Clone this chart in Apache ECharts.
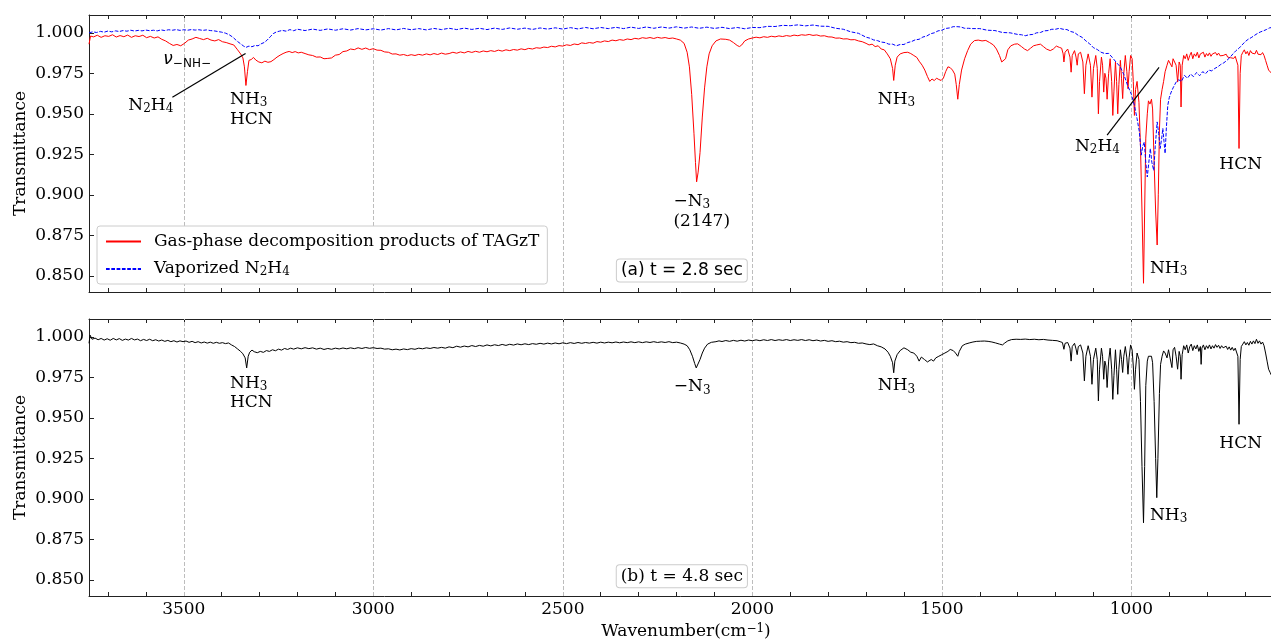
<!DOCTYPE html>
<html><head><meta charset="utf-8">
<script src="https://cdn.jsdelivr.net/npm/echarts@6/dist/echarts.min.js"></script>
<style>html,body{margin:0;padding:0;background:#fff}#c{width:1271px;height:642px}</style>
</head><body><div id="c"></div>
<script>
// ---------- DATA ----------
const xMajorTicks = [3500, 3000, 2500, 2000, 1500, 1000];
const xMinorTicks = [3700,3600,3500,3400,3300,3200,3100,3000,2900,2800,2700,2600,2500,2400,2300,2200,2100,2000,1900,1800,1700,1600,1500,1400,1300,1200,1100,1000,900,800,700];
const yTicks = [0.85, 0.875, 0.9, 0.925, 0.95, 0.975, 1.0];

const nameGas = 'Gas-phase decomposition products of TAGzT';
const nameVap = 'Vaporized N2H4';

// (a) t = 2.8 s, gas-phase decomposition products [wavenumber, transmittance]
const gasPhaseA = [
[3750,0.993],[3746,0.998],[3738,0.9975],[3728,0.9985],[3718,0.9972],[3708,0.9982],[3698,0.9978],[3688,0.9988],[3678,0.9974],[3668,0.9983],
[3658,0.9976],[3648,0.9986],[3638,0.9972],[3628,0.9982],[3618,0.9977],[3608,0.9985],[3598,0.9970],[3588,0.9978],[3578,0.9968],[3568,0.9975],
[3558,0.9960],[3548,0.9950],[3538,0.9935],[3528,0.9922],[3518,0.9928],[3508,0.9920],[3498,0.9935],[3488,0.9955],[3478,0.9962],[3468,0.9972],
[3458,0.9965],[3448,0.9958],[3438,0.9966],[3428,0.9955],[3418,0.9950],[3408,0.9958],[3398,0.9945],[3388,0.9940],[3378,0.9932],[3368,0.9925],
[3358,0.9895],[3350,0.9870],[3344,0.9845],[3340,0.9790],[3336,0.9675],[3332,0.9760],[3328,0.9830],[3322,0.9835],[3316,0.9848],[3310,0.9832],
[3302,0.9820],[3294,0.9815],[3286,0.9825],[3278,0.9818],[3270,0.9822],[3262,0.9835],[3254,0.9850],[3246,0.9862],[3238,0.9872],[3230,0.9880],
[3222,0.9885],[3214,0.9878],[3206,0.9884],[3198,0.9876],[3190,0.9880],[3180,0.9872],[3170,0.9864],[3160,0.9860],[3150,0.9850],[3140,0.9851],
[3130,0.9840],[3120,0.9842],[3110,0.9845],[3100,0.9862],[3090,0.9866],[3080,0.9884],[3070,0.9888],[3060,0.9900],[3050,0.9896],[3040,0.9907],
[3030,0.9898],[3020,0.9906],[3010,0.9896],[3000,0.9902],[2990,0.9893],[2980,0.9892],[2970,0.9882],[2960,0.9880],[2950,0.9869],[2940,0.9870],
[2930,0.9862],[2920,0.9866],[2910,0.9859],[2900,0.9865],[2890,0.9860],[2880,0.9867],[2870,0.9862],[2860,0.9870],[2850,0.9864],[2840,0.9872],
[2830,0.9866],[2820,0.9875],[2810,0.9868],[2800,0.9872],[2790,0.9880],[2780,0.9874],[2770,0.9882],[2760,0.9876],[2750,0.9885],[2740,0.9879],
[2730,0.9886],[2720,0.9880],[2710,0.9888],[2700,0.9883],[2690,0.9890],[2680,0.9885],[2670,0.9893],[2660,0.9887],[2650,0.9895],[2640,0.9890],
[2630,0.9897],[2620,0.9893],[2610,0.9901],[2600,0.9896],[2590,0.9904],[2580,0.9900],[2570,0.9908],[2560,0.9905],[2550,0.9912],[2540,0.9909],
[2530,0.9917],[2520,0.9913],[2510,0.9921],[2500,0.9918],[2490,0.9926],[2480,0.9922],[2470,0.9931],[2460,0.9927],[2450,0.9938],[2440,0.9934],
[2430,0.9940],[2420,0.9936],[2410,0.9946],[2400,0.9942],[2390,0.9950],[2380,0.9946],[2370,0.9955],[2360,0.9951],[2350,0.9958],[2340,0.9954],
[2330,0.9962],[2320,0.9958],[2310,0.9966],[2300,0.9962],[2290,0.9970],[2280,0.9966],[2270,0.9971],[2260,0.9965],[2250,0.9972],[2240,0.9967],
[2230,0.9971],[2220,0.9965],[2210,0.9968],[2200,0.9962],[2190,0.9955],[2180,0.9935],[2172,0.9880],[2166,0.9790],[2160,0.9620],[2154,0.9380],
[2150,0.9200],[2147,0.9080],[2143,0.9140],[2138,0.9260],[2132,0.9480],[2126,0.9660],[2120,0.9790],[2114,0.9870],[2106,0.9920],[2096,0.9950],
[2084,0.9962],[2070,0.9960],[2060,0.9955],[2050,0.9940],[2040,0.9922],[2034,0.9915],[2028,0.9925],[2020,0.9950],[2010,0.9962],[2000,0.9968],
[1990,0.9973],[1980,0.9969],[1970,0.9976],[1960,0.9972],[1950,0.9979],[1940,0.9975],[1930,0.9981],[1920,0.9977],[1910,0.9983],[1900,0.9979],
[1890,0.9986],[1880,0.9982],[1870,0.9988],[1860,0.9985],[1850,0.9990],[1840,0.9984],[1830,0.9987],[1820,0.9980],[1810,0.9982],[1800,0.9975],
[1790,0.9974],[1780,0.9967],[1770,0.9968],[1760,0.9962],[1750,0.9963],[1740,0.9957],[1730,0.9958],[1720,0.9950],[1710,0.9945],[1700,0.9935],
[1692,0.9925],[1684,0.9930],[1676,0.9915],[1668,0.9920],[1660,0.9900],[1652,0.9895],[1644,0.9870],[1636,0.9840],[1630,0.9780],[1627,0.9706],
[1623,0.9800],[1618,0.9850],[1610,0.9870],[1600,0.9878],[1590,0.9880],[1582,0.9872],[1574,0.9860],[1566,0.9848],[1560,0.9825],[1552,0.9800],
[1545,0.9770],[1538,0.9730],[1532,0.9700],[1526,0.9715],[1520,0.9705],[1514,0.9720],[1508,0.9712],[1502,0.9706],[1496,0.9720],[1490,0.9760],
[1484,0.9790],[1478,0.9785],[1472,0.9770],[1466,0.9745],[1462,0.9680],[1458,0.9590],[1454,0.9680],[1448,0.9770],[1440,0.9840],[1432,0.9890],
[1424,0.9930],[1414,0.9952],[1404,0.9955],[1394,0.9950],[1384,0.9953],[1374,0.9940],[1364,0.9925],[1356,0.9900],[1348,0.9860],[1342,0.9820],
[1337,0.9810],[1332,0.9840],[1326,0.9895],[1318,0.9920],[1308,0.9930],[1300,0.9932],[1290,0.9915],[1282,0.9900],[1274,0.9890],[1266,0.9905],
[1258,0.9920],[1250,0.9925],[1240,0.9930],[1232,0.9915],[1224,0.9900],[1214,0.9890],[1206,0.9900],[1198,0.9918],[1190,0.9910],[1184,0.9905],
[1180,0.9870],[1178,0.9820],[1175,0.9880],[1168,0.9900],[1162,0.9850],[1159,0.9757],[1156,0.9860],[1150,0.9890],[1146,0.9850],[1143,0.9800],
[1140,0.9870],[1134,0.9880],[1128,0.9820],[1124,0.9624],[1120,0.9800],[1114,0.9870],[1108,0.9800],[1104,0.9603],[1100,0.9780],[1094,0.9860],
[1090,0.9780],[1087,0.9500],[1084,0.9700],[1079,0.9850],[1076,0.9800],[1073,0.9634],[1070,0.9750],[1067,0.9720],[1064,0.9590],[1060,0.9750],
[1056,0.9840],[1052,0.9700],[1049,0.9490],[1046,0.9640],[1042,0.9820],[1039,0.9700],[1036,0.9500],[1033,0.9680],[1029,0.9830],[1026,0.9720],
[1023,0.9594],[1020,0.9750],[1016,0.9860],[1012,0.9760],[1009,0.9655],[1006,0.9760],[1002,0.9860],[998,0.9840],[995,0.9700],[992,0.9490],
[989,0.9650],[985,0.9700],[980,0.9570],[976,0.9300],[972,0.8900],[968,0.8454],[965,0.8900],[962,0.9350],[958,0.9500],[955,0.9580],
[951,0.9560],[947,0.9590],[944,0.9530],[940,0.9200],[936,0.8900],[932,0.8690],[929,0.9000],[926,0.9400],[923,0.9590],[919,0.9650],
[915,0.9700],[911,0.9760],[906,0.9800],[902,0.9830],[897,0.9840],[893,0.9790],[890,0.9840],[886,0.9850],[882,0.9800],[878,0.9696],
[874,0.9820],[871,0.9800],[869,0.9542],[866,0.9800],[862,0.9860],[858,0.9840],[854,0.9870],[850,0.9830],[846,0.9860],[842,0.9880],
[838,0.9840],[834,0.9870],[830,0.9855],[826,0.9880],[822,0.9845],[818,0.9870],[814,0.9860],[810,0.9880],[806,0.9850],[802,0.9872],
[798,0.9858],[794,0.9876],[790,0.9855],[786,0.9870],[782,0.9860],[778,0.9878],[774,0.9862],[770,0.9875],[766,0.9858],[762,0.9870],
[758,0.9860],[754,0.9855],[750,0.9868],[746,0.9850],[742,0.9862],[738,0.9846],[734,0.9858],[730,0.9842],[726,0.9855],[722,0.9848],
[719,0.9800],[716,0.9286],[713,0.9750],[710,0.9860],[706,0.9880],[702,0.9895],[698,0.9870],[694,0.9885],[690,0.9860],[686,0.9890],
[682,0.9875],[678,0.9885],[674,0.9870],[670,0.9892],[666,0.9868],[662,0.9880],[658,0.9865],[654,0.9878],[650,0.9860],[646,0.9830],
[642,0.9800],[638,0.9770],[634,0.9760],[630,0.9750],[626,0.9780]
];

// (a) vaporized N2H4 reference spectrum
const vaporN2H4 = [
[3750,1.0000],[3740,1.0006],[3730,1.0002],[3720,1.0009],[3710,1.0004],[3700,1.0011],[3690,1.0006],[3680,1.0012],[3670,1.0008],[3660,1.0014],
[3650,1.0010],[3640,1.0016],[3630,1.0011],[3620,1.0015],[3610,1.0012],[3600,1.0017],[3590,1.0013],[3580,1.0016],[3570,1.0012],[3560,1.0018],
[3550,1.0014],[3540,1.0019],[3530,1.0016],[3520,1.0020],[3510,1.0015],[3500,1.0019],[3490,1.0016],[3480,1.0020],[3470,1.0017],[3460,1.0019],
[3450,1.0015],[3440,1.0018],[3430,1.0014],[3420,1.0012],[3410,1.0008],[3400,1.0004],[3390,0.9998],[3380,0.9988],[3370,0.9972],[3360,0.9950],
[3350,0.9932],[3342,0.9918],[3336,0.9910],[3328,0.9918],[3320,0.9914],[3312,0.9922],[3304,0.9920],[3296,0.9932],[3288,0.9940],[3280,0.9955],
[3272,0.9975],[3264,0.9995],[3256,1.0005],[3248,1.0010],[3240,1.0015],[3230,1.0010],[3220,1.0020],[3210,1.0013],[3200,1.0022],[3180,1.0014],
[3160,1.0023],[3140,1.0015],[3120,1.0024],[3100,1.0016],[3080,1.0025],[3060,1.0017],[3040,1.0026],[3020,1.0018],[3000,1.0025],[2980,1.0017],
[2960,1.0026],[2940,1.0018],[2920,1.0027],[2900,1.0019],[2880,1.0026],[2860,1.0018],[2840,1.0027],[2820,1.0020],[2800,1.0028],[2780,1.0020],
[2760,1.0029],[2740,1.0021],[2720,1.0028],[2700,1.0020],[2680,1.0029],[2660,1.0021],[2640,1.0030],[2620,1.0022],[2600,1.0029],[2580,1.0021],
[2560,1.0030],[2540,1.0023],[2520,1.0031],[2500,1.0023],[2480,1.0032],[2460,1.0024],[2440,1.0033],[2420,1.0025],[2400,1.0033],[2380,1.0026],
[2360,1.0034],[2340,1.0026],[2320,1.0035],[2300,1.0027],[2280,1.0036],[2260,1.0028],[2240,1.0036],[2220,1.0029],[2200,1.0037],[2180,1.0029],
[2160,1.0036],[2140,1.0028],[2120,1.0035],[2100,1.0027],[2080,1.0034],[2060,1.0026],[2040,1.0033],[2020,1.0025],[2000,1.0033],[1980,1.0032],
[1960,1.0040],[1940,1.0039],[1920,1.0046],[1900,1.0044],[1880,1.0049],[1860,1.0043],[1840,1.0048],[1820,1.0041],[1800,1.0040],[1780,1.0028],
[1760,1.0022],[1740,1.0006],[1720,0.9997],[1700,0.9973],[1690,0.9967],[1680,0.9956],[1670,0.9952],[1660,0.9943],[1650,0.9940],[1640,0.9930],
[1630,0.9930],[1620,0.9920],[1610,0.9928],[1600,0.9928],[1590,0.9940],[1580,0.9946],[1570,0.9957],[1560,0.9960],[1550,0.9974],[1540,0.9980],
[1530,0.9994],[1520,1.0000],[1510,1.0012],[1500,1.0016],[1490,1.0027],[1480,1.0030],[1470,1.0038],[1460,1.0038],[1450,1.0036],[1440,1.0028],
[1430,1.0028],[1420,1.0026],[1400,1.0026],[1380,1.0016],[1360,1.0014],[1340,1.0002],[1320,1.0000],[1300,0.9990],[1290,0.9988],[1280,0.9982],
[1270,0.9988],[1260,0.9990],[1250,1.0000],[1240,1.0002],[1230,1.0012],[1220,1.0014],[1210,1.0022],[1200,1.0022],[1190,1.0028],[1180,1.0022],
[1170,1.0020],[1160,1.0008],[1150,1.0002],[1140,0.9984],[1130,0.9972],[1120,0.9950],[1110,0.9932],[1100,0.9908],[1090,0.9897],[1080,0.9880],
[1070,0.9872],[1060,0.9873],[1050,0.9847],[1040,0.9818],[1030,0.9792],[1020,0.9743],[1010,0.9676],[1000,0.9620],[992,0.9552],[985,0.9470],
[979,0.9390],[974,0.9245],[970,0.9300],[966,0.9326],[962,0.9200],[958,0.9110],[954,0.9200],[950,0.9286],[946,0.9200],[941,0.9150],
[937,0.9300],[932,0.9450],[928,0.9380],[924,0.9286],[920,0.9350],[917,0.9410],[914,0.9330],[911,0.9255],[908,0.9400],[904,0.9552],
[900,0.9600],[895,0.9634],[890,0.9660],[882,0.9696],[875,0.9710],[868,0.9700],[860,0.9737],[852,0.9720],[844,0.9745],[836,0.9730],
[828,0.9755],[820,0.9735],[812,0.9760],[804,0.9748],[796,0.9770],[788,0.9765],[780,0.9780],[772,0.9790],[764,0.9805],[756,0.9815],
[748,0.9830],[740,0.9848],[732,0.9870],[724,0.9890],[716,0.9905],[708,0.9925],[700,0.9945],[692,0.9960],[684,0.9970],[676,0.9983],
[668,0.9995],[660,1.0005],[652,1.0012],[644,1.0020],[636,1.0030],[628,1.0034]
];

// (b) t = 4.8 s, gas-phase decomposition products
const gasPhaseB = [
[3750,0.9960],[3747,1.0010],[3742,0.9985],[3734,0.9992],[3726,0.9982],[3718,0.9990],[3710,0.9980],[3702,0.9988],[3694,0.9979],[3686,0.9990],
[3678,0.9981],[3670,0.9989],[3662,0.9978],[3654,0.9986],[3646,0.9980],[3638,0.9990],[3630,0.9981],[3622,0.9986],[3614,0.9976],[3606,0.9984],
[3598,0.9977],[3590,0.9985],[3582,0.9976],[3574,0.9982],[3566,0.9974],[3558,0.9980],[3550,0.9972],[3542,0.9978],[3534,0.9970],[3526,0.9976],
[3518,0.9968],[3510,0.9975],[3502,0.9970],[3494,0.9974],[3486,0.9966],[3478,0.9972],[3470,0.9964],[3462,0.9970],[3454,0.9962],[3446,0.9968],
[3438,0.9961],[3430,0.9967],[3422,0.9960],[3414,0.9966],[3406,0.9960],[3398,0.9964],[3390,0.9958],[3382,0.9962],[3374,0.9950],[3366,0.9940],
[3358,0.9925],[3350,0.9910],[3344,0.9895],[3338,0.9870],[3334,0.9808],[3330,0.9880],[3326,0.9905],[3320,0.9918],[3314,0.9908],[3306,0.9902],
[3298,0.9910],[3290,0.9904],[3282,0.9915],[3274,0.9910],[3266,0.9920],[3258,0.9914],[3250,0.9924],[3242,0.9918],[3234,0.9928],[3226,0.9922],
[3218,0.9930],[3210,0.9924],[3200,0.9932],[3190,0.9926],[3180,0.9933],[3170,0.9927],[3160,0.9932],[3150,0.9924],[3140,0.9930],[3130,0.9922],
[3120,0.9928],[3110,0.9923],[3100,0.9930],[3090,0.9925],[3080,0.9931],[3070,0.9926],[3060,0.9932],[3050,0.9927],[3040,0.9933],[3030,0.9928],
[3020,0.9934],[3010,0.9929],[3000,0.9933],[2990,0.9928],[2980,0.9930],[2970,0.9924],[2960,0.9926],[2950,0.9920],[2940,0.9924],[2930,0.9919],
[2920,0.9925],[2910,0.9921],[2900,0.9927],[2890,0.9923],[2880,0.9930],[2870,0.9926],[2860,0.9932],[2850,0.9928],[2840,0.9934],[2830,0.9930],
[2820,0.9935],[2810,0.9930],[2800,0.9938],[2790,0.9933],[2780,0.9942],[2770,0.9936],[2760,0.9943],[2750,0.9938],[2740,0.9946],[2730,0.9940],
[2720,0.9947],[2710,0.9942],[2700,0.9950],[2690,0.9944],[2680,0.9951],[2670,0.9946],[2660,0.9953],[2650,0.9947],[2640,0.9954],[2630,0.9949],
[2620,0.9956],[2610,0.9951],[2600,0.9957],[2590,0.9952],[2580,0.9958],[2570,0.9954],[2560,0.9960],[2550,0.9955],[2540,0.9961],[2530,0.9956],
[2520,0.9962],[2510,0.9957],[2500,0.9963],[2490,0.9958],[2480,0.9964],[2470,0.9959],[2460,0.9965],[2450,0.9960],[2440,0.9965],[2430,0.9961],
[2420,0.9966],[2410,0.9961],[2400,0.9967],[2390,0.9962],[2380,0.9967],[2370,0.9963],[2360,0.9968],[2350,0.9963],[2340,0.9968],[2330,0.9964],
[2320,0.9969],[2310,0.9964],[2300,0.9969],[2290,0.9964],[2280,0.9969],[2270,0.9965],[2260,0.9970],[2250,0.9965],[2240,0.9969],[2230,0.9965],
[2220,0.9970],[2210,0.9964],[2200,0.9967],[2190,0.9962],[2180,0.9955],[2172,0.9945],[2165,0.9920],[2158,0.9880],[2152,0.9835],[2148,0.9808],
[2144,0.9820],[2138,0.9860],[2132,0.9900],[2126,0.9930],[2118,0.9955],[2108,0.9966],[2096,0.9970],[2088,0.9975],[2080,0.9971],[2070,0.9977],
[2060,0.9972],[2050,0.9978],[2040,0.9973],[2030,0.9979],[2020,0.9974],[2010,0.9980],[2000,0.9976],[1990,0.9981],[1980,0.9976],[1970,0.9982],
[1960,0.9977],[1950,0.9983],[1940,0.9977],[1930,0.9982],[1920,0.9978],[1910,0.9983],[1900,0.9977],[1890,0.9982],[1880,0.9978],[1870,0.9983],
[1860,0.9977],[1850,0.9982],[1840,0.9976],[1830,0.9980],[1820,0.9974],[1810,0.9978],[1800,0.9972],[1790,0.9976],[1780,0.9970],[1770,0.9973],
[1760,0.9967],[1750,0.9970],[1740,0.9964],[1730,0.9966],[1720,0.9960],[1710,0.9962],[1700,0.9956],[1690,0.9952],[1680,0.9956],[1670,0.9945],
[1660,0.9938],[1650,0.9925],[1642,0.9905],[1636,0.9880],[1630,0.9840],[1627,0.9778],[1624,0.9850],[1618,0.9890],[1610,0.9915],[1600,0.9932],
[1590,0.9920],[1582,0.9905],[1574,0.9900],[1566,0.9880],[1560,0.9850],[1554,0.9875],[1546,0.9860],[1538,0.9845],[1533,0.9840],[1528,0.9860],
[1522,0.9850],[1516,0.9870],[1508,0.9880],[1500,0.9890],[1492,0.9900],[1484,0.9910],[1478,0.9922],[1470,0.9915],[1464,0.9900],[1458,0.9880],
[1454,0.9910],[1446,0.9945],[1438,0.9955],[1428,0.9962],[1418,0.9968],[1408,0.9972],[1398,0.9973],[1388,0.9974],[1378,0.9972],[1368,0.9968],
[1358,0.9962],[1348,0.9955],[1340,0.9950],[1334,0.9962],[1326,0.9975],[1316,0.9983],[1304,0.9985],[1292,0.9984],[1280,0.9986],[1268,0.9983],
[1256,0.9985],[1244,0.9982],[1232,0.9984],[1220,0.9980],[1208,0.9978],[1196,0.9976],[1188,0.9970],[1182,0.9965],[1178,0.9923],[1175,0.9960],
[1168,0.9965],[1162,0.9930],[1159,0.9850],[1156,0.9940],[1150,0.9960],[1146,0.9925],[1143,0.9890],[1140,0.9940],[1134,0.9950],[1128,0.9900],
[1124,0.9728],[1120,0.9880],[1114,0.9945],[1108,0.9880],[1104,0.9707],[1100,0.9860],[1094,0.9930],[1090,0.9860],[1087,0.9604],[1084,0.9800],
[1079,0.9930],[1076,0.9880],[1073,0.9738],[1070,0.9850],[1067,0.9820],[1064,0.9687],[1060,0.9850],[1056,0.9930],[1052,0.9800],[1049,0.9614],
[1046,0.9760],[1042,0.9920],[1039,0.9800],[1036,0.9645],[1033,0.9800],[1029,0.9920],[1026,0.9860],[1023,0.9780],[1020,0.9880],[1016,0.9940],
[1012,0.9870],[1009,0.9769],[1006,0.9870],[1002,0.9950],[998,0.9920],[995,0.9820],[992,0.9676],[989,0.9800],[985,0.9900],[980,0.9860],
[976,0.9600],[972,0.9200],[968,0.8852],[965,0.9200],[962,0.9700],[958,0.9850],[955,0.9880],[951,0.9876],[947,0.9880],[944,0.9840],
[940,0.9600],[936,0.9250],[933,0.9007],[930,0.9250],[926,0.9650],[923,0.9830],[919,0.9880],[915,0.9913],[911,0.9900],[906,0.9870],
[902,0.9920],[897,0.9930],[893,0.9810],[890,0.9920],[886,0.9935],[882,0.9880],[878,0.9800],[874,0.9910],[871,0.9880],[869,0.9738],
[866,0.9890],[862,0.9945],[858,0.9920],[854,0.9950],[850,0.9900],[846,0.9940],[842,0.9955],[838,0.9915],[834,0.9945],[830,0.9925],
[826,0.9950],[822,0.9910],[818,0.9940],[816,0.9830],[814,0.9930],[810,0.9950],[806,0.9920],[802,0.9945],[798,0.9928],[794,0.9950],
[790,0.9925],[786,0.9945],[782,0.9930],[778,0.9952],[774,0.9935],[770,0.9948],[766,0.9928],[762,0.9945],[758,0.9932],[754,0.9925],
[750,0.9942],[746,0.9922],[742,0.9938],[738,0.9918],[734,0.9935],[730,0.9915],[726,0.9930],[722,0.9920],[719,0.9880],[716,0.9460],
[713,0.9860],[710,0.9940],[706,0.9955],[702,0.9970],[698,0.9950],[694,0.9965],[690,0.9948],[686,0.9972],[682,0.9955],[678,0.9975],
[674,0.9958],[670,0.9985],[666,0.9960],[662,0.9975],[658,0.9955],[654,0.9968],[650,0.9945],[646,0.9900],[642,0.9850],[638,0.9800],
[634,0.9780],[630,0.9760]
];

// annotation labels [wavenumber, transmittance, text, align]
const labelsA = [
  [3491, 0.9829, '{nu|ν}{ns|−NH−}', 'center'],
  [3587, 0.9546, '{m|N}{s|2}{m|H}{s|4}', 'center'],
  [3378, 0.9583, '{m|NH}{s|3}', 'left'],
  [3378, 0.9466, '{m|HCN}', 'left'],
  [2208, 0.8955, '{m|−N}{s|3}', 'left'],
  [2208, 0.8832, '{m|(2147)}', 'left'],
  [1669, 0.9583, '{m|NH}{s|3}', 'left'],
  [1149, 0.9294, '{m|N}{s|2}{m|H}{s|4}', 'left'],
  [951, 0.8542, '{m|NH}{s|3}', 'left'],
  [768, 0.9186, '{m|HCN}', 'left']
];
const labelsB = [
  [3378, 0.9711, '{m|NH}{s|3}', 'left'],
  [3378, 0.9594, '{m|HCN}', 'left'],
  [2207, 0.9687, '{m|−N}{s|3}', 'left'],
  [1669, 0.9693, '{m|NH}{s|3}', 'left'],
  [951, 0.8896, '{m|NH}{s|3}', 'left'],
  [768, 0.9340, '{m|HCN}', 'left']
];
const panelTitles = [
  [2186, 0.8533, '(a) t = 2.8 sec'],
  [2186, 0.8522, '(b) t = 4.8 sec']
];
const arrowsA = [
  [[3530, 0.9602], [3337, 0.9873]],
  [[1064, 0.9368], [927, 0.9786]]
];

// ---------- STYLE ----------
const SERIF = 'DejaVu Serif';
const SANS = 'DejaVu Sans';
const FS = 17;
const rich = {
  m: {fontFamily: SERIF, fontSize: FS, color: '#000', verticalAlign: 'top'},
  s: {fontFamily: SERIF, fontSize: 12, color: '#000', verticalAlign: 'top', padding: [6, 0, 0, 0]},
  nu: {fontFamily: SANS, fontStyle: 'italic', fontSize: FS, color: '#000', verticalAlign: 'top'},
  ns: {fontFamily: SANS, fontSize: 12, color: '#000', verticalAlign: 'top', padding: [6, 0, 0, 0]},
  sp: {fontFamily: SERIF, fontSize: 12, color: '#000', verticalAlign: 'top', padding: [0, 0, 0, 0]},
  mb: {fontFamily: SERIF, fontSize: FS, color: '#000', verticalAlign: 'bottom'}
};
const legendText = {};
legendText[nameGas] = '{m|' + nameGas + '}';
legendText[nameVap] = '{m|Vaporized N}{s|2}{m|H}{s|4}';

const AX = '#222';
const GRID_L = 89, GRID_W = 1194, GRID_H = 277;

function xAxisCfg(grid, pos, withLabels) {
  return {
    gridIndex: grid, type: 'value', min: 600, max: 3750, inverse: true, position: pos,
    axisLine: {show: true, onZero: false, lineStyle: {color: AX, width: 1}},
    axisTick: {show: true, inside: true, length: 4, customValues: xMinorTicks, lineStyle: {color: AX}},
    axisLabel: withLabels ? {show: true, customValues: xMajorTicks, formatter: v => String(Math.round(v)), fontFamily: SERIF, fontSize: FS, color: '#000', margin: 5} : {show: false},
    splitLine: {show: false},
    name: withLabels ? '{mb|Wavenumber(cm}{sp|−1}{mb|)}' : '',
    nameLocation: 'middle', nameGap: 27, nameMoveOverlap: false,
    nameTextStyle: {rich: rich}
  };
}
function yAxisCfg(grid) {
  return {
    gridIndex: grid, type: 'value', min: 0.84, max: 1.011,
    axisLine: {show: true, onZero: false, lineStyle: {color: AX, width: 1}},
    axisTick: {show: true, inside: true, length: 5, customValues: yTicks, lineStyle: {color: AX}},
    axisLabel: {show: true, customValues: yTicks, formatter: v => Number(v).toFixed(3), fontFamily: SERIF, fontSize: FS, color: '#000', margin: 5},
    splitLine: {show: false},
    name: 'Transmittance', nameLocation: 'middle', nameGap: 60, nameMoveOverlap: false,
    nameTextStyle: {fontFamily: SERIF, fontSize: FS, color: '#000'}
  };
}
function gridLineMark() {
  return {
    silent: true, symbol: ['none', 'none'], z: 1, animation: false,
    label: {show: false},
    lineStyle: {color: '#bdbdbd', type: [4, 2], width: 1},
    emphasis: {disabled: true},
    data: xMajorTicks.map(v => ({xAxis: v}))
  };
}
function labelMarks(list) {
  return {
    silent: true, animation: false, symbol: 'circle', symbolSize: 1,
    itemStyle: {color: 'rgba(0,0,0,0)'},
    data: list.map(a => ({
      coord: [a[0], a[1]],
      label: {show: true, position: 'inside', formatter: a[2], align: a[3], verticalAlign: 'middle', rich: rich}
    }))
  };
}
function boxMark(t, fam) {
  return {
    coord: [t[0], t[1]],
    label: {show: true, position: 'inside', formatter: t[2], align: 'center', verticalAlign: 'middle',
      fontFamily: fam, fontSize: FS, color: '#000', backgroundColor: '#fff',
      borderColor: '#cccccc', borderWidth: 1, borderRadius: 3, padding: [3, 4, 2, 4]}
  };
}

const chart = echarts.init(document.getElementById('c'), null, {renderer: 'canvas'});
const mA = labelMarks(labelsA); mA.data.push(boxMark(panelTitles[0], SANS));
const mB = labelMarks(labelsB); mB.data.push(boxMark(panelTitles[1], SERIF));

chart.setOption({
  animation: false,
  backgroundColor: '#fff',
  grid: [
    {left: GRID_L, top: 15, width: GRID_W, height: GRID_H, outerBoundsMode: 'none', containLabel: false},
    {left: GRID_L, top: 319, width: GRID_W, height: GRID_H, outerBoundsMode: 'none', containLabel: false}
  ],
  xAxis: [xAxisCfg(0, 'bottom', false), xAxisCfg(0, 'top', false), xAxisCfg(1, 'bottom', true), xAxisCfg(1, 'top', false)],
  yAxis: [yAxisCfg(0), yAxisCfg(1)],
  legend: {
    data: [nameGas, nameVap], orient: 'vertical', left: 97, top: 226,
    itemWidth: 35, itemHeight: 14, itemGap: 10,
    padding: [7, 8, 6, 8],
    backgroundColor: '#fff', borderColor: '#cccccc', borderWidth: 1, borderRadius: 3,
    itemStyle: {color: 'rgba(0,0,0,0)', borderColor: 'rgba(0,0,0,0)', borderWidth: 0},
    formatter: n => legendText[n],
    textStyle: {fontFamily: SERIF, fontSize: FS, color: '#000', padding: [0, 0, 0, 8], rich: rich},
    selectedMode: false
  },
  series: [
    {
      type: 'line', name: nameGas, xAxisIndex: 0, yAxisIndex: 0, data: gasPhaseA,
      symbol: 'none', showSymbol: false, z: 3, silent: true,
      lineStyle: {color: '#ff0000', width: 1}, itemStyle: {color: '#ff0000'},
      emphasis: {disabled: true},
      markLine: gridLineMark(), markPoint: mA
    },
    {
      type: 'line', name: nameVap, xAxisIndex: 0, yAxisIndex: 0, data: vaporN2H4,
      symbol: 'none', showSymbol: false, z: 4, silent: true,
      lineStyle: {color: '#0000ff', width: 1, type: [3.7, 1.6]}, itemStyle: {color: '#0000ff'},
      emphasis: {disabled: true},
      markLine: {
        silent: true, animation: false, symbol: ['none', 'arrow'], symbolSize: [0, 9], z: 6,
        label: {show: false},
        lineStyle: {color: '#000', width: 1.2, type: 'solid'},
        emphasis: {disabled: true},
        data: arrowsA.map(a => [{coord: a[0]}, {coord: a[1]}])
      }
    },
    {
      type: 'line', name: 'gasB', xAxisIndex: 2, yAxisIndex: 1, data: gasPhaseB,
      symbol: 'none', showSymbol: false, z: 3, silent: true,
      lineStyle: {color: '#000', width: 1}, itemStyle: {color: '#000'},
      emphasis: {disabled: true},
      markLine: gridLineMark(), markPoint: mB
    }
  ]
});
</script></body></html>
